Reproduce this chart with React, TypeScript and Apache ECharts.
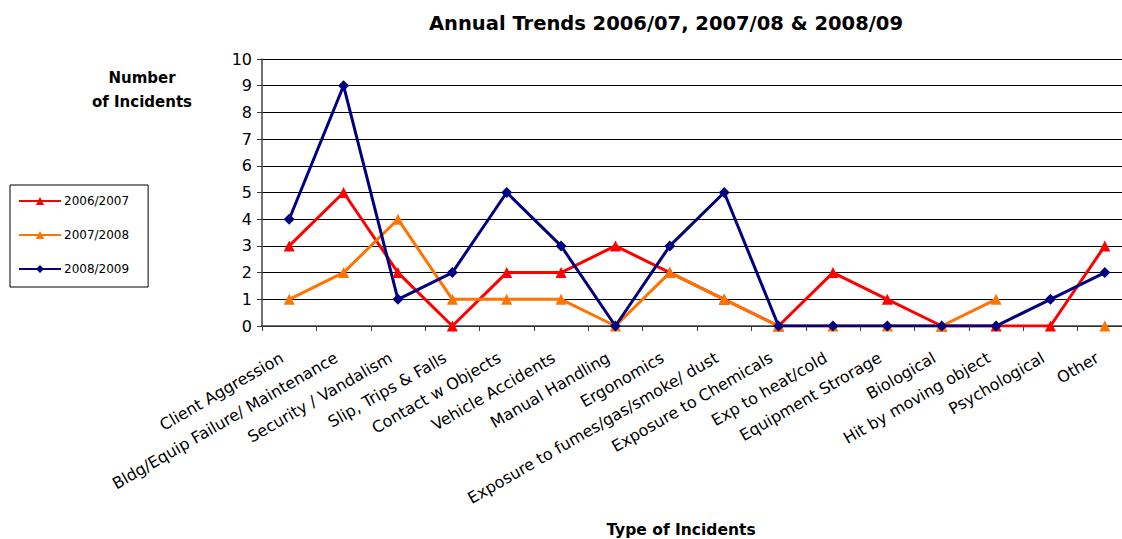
import React, { useEffect, useRef } from "react";
import * as echarts from "echarts";

const categories = [
  "Client Aggression",
  "Bldg/Equip Failure/ Maintenance",
  "Security / Vandalism",
  "Slip, Trips & Falls",
  "Contact w Objects",
  "Vehicle Accidents",
  "Manual Handling",
  "Ergonomics",
  "Exposure to fumes/gas/smoke/ dust",
  "Exposure to Chemicals",
  "Exp to heat/cold",
  "Equipment Strorage",
  "Biological",
  "Hit by moving object",
  "Psychological",
  "Other",
];

const y2006 = [3, 5, 2, 0, 2, 2, 3, 2, 1, 0, 2, 1, 0, 0, 0, 3];
const y2007 = [1, 2, 4, 1, 1, 1, 0, 2, 1, 0, 0, 0, 0, 1, null, 0];
const y2008 = [4, 9, 1, 2, 5, 3, 0, 3, 5, 0, 0, 0, 0, 0, 1, 2];

const FONT = "'DejaVu Sans', Verdana, sans-serif";

export default function App() {
  const ref = useRef<HTMLDivElement>(null);

  useEffect(() => {
    if (!ref.current) return;
    const chart = echarts.init(ref.current, undefined, { renderer: "svg" });
    const lineSeries = (name: string, data: (number | null)[], color: string, symbol: string, size: number) => ({
      name,
      type: "line",
      data,
      symbol,
      symbolSize: size,
      color,
      lineStyle: { color, width: 3 },
      itemStyle: { color },
      z: 3,
    });
    chart.setOption({
      animation: false,
      backgroundColor: "#ffffff",
      textStyle: { fontFamily: FONT },
      graphic: [
        {
          type: "text",
          x: 666,
          y: 13,
          style: {
            text: "Annual Trends 2006/07, 2007/08 & 2008/09",
            font: `bold 19.5px ${FONT}`,
            fill: "#000",
            textAlign: "center",
          },
        },
        {
          type: "text",
          x: 142,
          y: 66,
          style: {
            text: "Number\nof Incidents",
            font: `bold 15px ${FONT}`,
            fill: "#000",
            lineHeight: 24,
            textAlign: "center",
          },
        },
        {
          type: "text",
          x: 681,
          y: 522,
          style: {
            text: "Type of Incidents",
            font: `bold 15.5px ${FONT}`,
            fill: "#000",
            textAlign: "center",
          },
        },
      ],
      legend: {
        orient: "vertical",
        left: 10,
        top: 185,
        itemWidth: 42,
        itemHeight: 10,
        itemGap: 22,
        padding: [10, 19, 12, 8],
        borderColor: "#000",
        borderWidth: 1,
        textStyle: { fontFamily: FONT, fontSize: 12, color: "#000", padding: [0, 0, 0, -2] },
        data: ["2006/2007", "2007/2008", "2008/2009"],
      },
      grid: { left: 262, top: 59, right: 0, bottom: 213, containLabel: false },
      xAxis: {
        type: "category",
        data: categories,
        boundaryGap: true,
        axisLine: { lineStyle: { color: "#404040", width: 1.5 } },
        axisTick: { show: true, length: 5, alignWithLabel: false, lineStyle: { color: "#404040" } },
        axisLabel: {
          interval: 0,
          rotate: 30,
          margin: 17,
          verticalAlign: "top",
          padding: [0, 13, 0, 0],
          fontFamily: FONT,
          fontSize: 16,
          color: "#000",
        },
      },
      yAxis: {
        type: "value",
        min: 0,
        max: 10,
        interval: 1,
        axisLine: { show: true, lineStyle: { color: "#404040", width: 1.5 } },
        axisTick: { show: true, length: 5, lineStyle: { color: "#404040" } },
        axisLabel: { fontFamily: FONT, fontSize: 16, color: "#000", margin: 10 },
        splitLine: { lineStyle: { color: "#000", width: 1 } },
      },
      series: [
        lineSeries("2006/2007", y2006, "#FF0000", "triangle", 11),
        lineSeries("2007/2008", y2007, "#FF7300", "triangle", 11),
        lineSeries("2008/2009", y2008, "#000080", "diamond", 11),
      ],
    });
    return () => chart.dispose();
  }, []);

  return (
    <div style={{ position: "absolute", left: 0, top: 0, width: 1122, height: 539, overflow: "hidden" }}>
      <div ref={ref} style={{ width: 1132, height: 539 }} />
    </div>
  );
}
